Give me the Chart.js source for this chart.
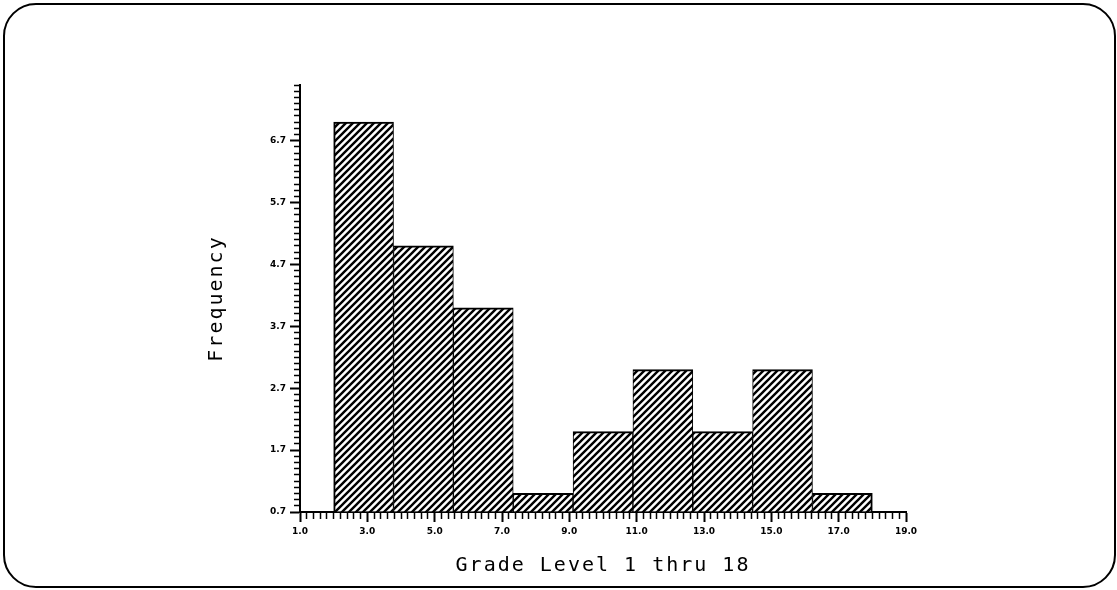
<!DOCTYPE html>
<html><head><meta charset="utf-8">
<script src="https://cdn.jsdelivr.net/npm/chart.js@4/dist/chart.umd.min.js"></script>
<style>html,body{margin:0;padding:0;background:#fff;} #wrap{width:1117px;height:590px;position:relative;}</style>
</head><body><div id="wrap"><canvas id="c"></canvas></div>
<script>
const BIN_LOW  = [2.000, 3.778, 5.556, 7.333, 9.111, 10.889, 12.667, 14.444, 16.222];
const BIN_HIGH = [3.778, 5.556, 7.333, 9.111, 10.889, 12.667, 14.444, 16.222, 18.000];
const FREQUENCY = [7, 5, 4, 1, 2, 3, 2, 3, 1];
const Y_TICK_LABELS = ['0.7','1.7','2.7','3.7','4.7','5.7','6.7'];
const X_TICK_LABELS = ['1.0','3.0','5.0','7.0','9.0','11.0','13.0','15.0','17.0','19.0'];
const X_TITLE = 'Grade Level 1 thru 18';
const Y_TITLE = 'Frequency';
const X_MIN = 1, X_MAX = 19, X_MAJOR = 2, X_MINOR = 0.2;
const Y_MIN = 0.7, Y_MAX = 7.6, Y_MAJOR = 1, Y_MINOR = 0.1;

function rulerTicks(min, max, step) {
  const n = Math.round((max - min) / step), t = [];
  for (let i = 0; i <= n; i++) t.push({ value: +(min + i * step).toFixed(4) });
  return t;
}
function majorIndex(v, min, step) {
  const k = (v - min) / step, r = Math.round(k);
  return Math.abs(k - r) < 1e-6 ? r : -1;
}
const isMajorX = v => majorIndex(v, X_MIN, X_MAJOR) >= 0;
const isMajorY = v => majorIndex(v, Y_MIN, Y_MAJOR) >= 0;

const canvas = document.getElementById('c');
const mainCtx = canvas.getContext('2d');
function hatch() {
  const s = 7, c = document.createElement('canvas');
  c.width = s; c.height = s;
  const g = c.getContext('2d');
  g.fillStyle = '#fff'; g.fillRect(0, 0, s, s);
  g.strokeStyle = '#000'; g.lineWidth = 2.4; g.lineCap = 'square';
  g.beginPath();
  for (const o of [-s, 0, s]) { g.moveTo(o - 1, s + 1); g.lineTo(o + s + 1, -1); }
  g.stroke();
  return mainCtx.createPattern(c, 'repeat');
}

const spacedTitles = {
  id: 'spacedTitles',
  afterLayout(chart) {
    for (const s of Object.values(chart.scales)) {
      if (s._spaced) continue;
      const orig = s.drawTitle;
      s.drawTitle = function (...a) {
        const c = this.ctx; c.save(); c.letterSpacing = '2px'; orig.apply(this, a); c.restore();
      };
      s._spaced = true;
    }
  }
};
const frame = {
  id: 'frame',
  afterDraw(chart) {
    const c = chart.ctx; c.save();
    c.lineWidth = 2; c.strokeStyle = '#000';
    c.beginPath(); c.roundRect(4, 4, 1111, 583, 32); c.stroke();
    c.restore();
  }
};

const tickFont = { family: 'DejaVu Sans', size: 9, weight: 'bold' };
const titleFont = { family: 'DejaVu Sans Mono', size: 20 };
const nBars = FREQUENCY.length;

new Chart(canvas, {
  type: 'bar',
  data: {
    datasets: [{
      data: BIN_LOW.map((lo, i) => ({ x: (lo + BIN_HIGH[i]) / 2, y: FREQUENCY[i] })),
      base: Y_MIN,
      backgroundColor: hatch(),
      borderColor: '#000',
      borderWidth: c => ({ top: 2, bottom: 0, left: c.dataIndex === 0 ? 2 : 1, right: c.dataIndex === nBars - 1 ? 2 : 1 }),
      borderSkipped: false,
      barThickness: 'flex',
      barPercentage: 1,
      categoryPercentage: 1
    }]
  },
  options: {
    responsive: true, maintainAspectRatio: false, animation: false, events: [],
    layout: { padding: { top: 85, right: 211, bottom: 0, left: 0 } },
    plugins: { legend: { display: false }, tooltip: { enabled: false } },
    scales: {
      x: {
        type: 'linear', min: X_MIN, max: X_MAX, offset: false,
        afterBuildTicks: s => { s.ticks = rulerTicks(X_MIN, X_MAX, X_MINOR); },
        afterFit: s => { s.height = 78; },
        border: { display: true, color: '#000', width: 2 },
        grid: {
          offset: false, drawOnChartArea: false, drawTicks: true, tickLength: 10, tickColor: '#000',
          tickWidth: c => (c.tick && isMajorX(c.tick.value)) ? 2 : 1.5,
          tickBorderDash: c => (c.tick && isMajorX(c.tick.value)) ? [] : [6, 100]
        },
        ticks: {
          autoSkip: false, maxRotation: 0, minRotation: 0, padding: 4, color: '#000', font: tickFont,
          callback: v => { const k = majorIndex(v, X_MIN, X_MAJOR); return k >= 0 ? (X_TICK_LABELS[k] || '') : ''; }
        },
        title: { display: true, text: X_TITLE, color: '#000', font: titleFont, padding: { top: 0, bottom: 12 } }
      },
      y: {
        type: 'linear', min: Y_MIN, max: Y_MAX,
        afterBuildTicks: s => { s.ticks = rulerTicks(Y_MIN, Y_MAX, Y_MINOR); },
        afterFit: s => { s.width = 300; },
        border: { display: true, color: '#000', width: 2 },
        grid: {
          drawOnChartArea: false, drawTicks: true, tickLength: 10, tickColor: '#000',
          tickWidth: c => (c.tick && isMajorY(c.tick.value)) ? 2 : 1.5,
          tickBorderDash: c => (c.tick && isMajorY(c.tick.value)) ? [] : [0, 4, 5, 100]
        },
        ticks: {
          autoSkip: false, padding: 4, color: '#000', font: tickFont,
          callback: v => { const k = majorIndex(v, Y_MIN, Y_MAJOR); return k >= 0 ? (Y_TICK_LABELS[k] || '') : ''; }
        },
        title: { display: true, text: Y_TITLE, color: '#000', font: titleFont, padding: { top: 205, bottom: 0 } }
      }
    }
  },
  plugins: [spacedTitles, frame]
});
</script>
</body></html>
